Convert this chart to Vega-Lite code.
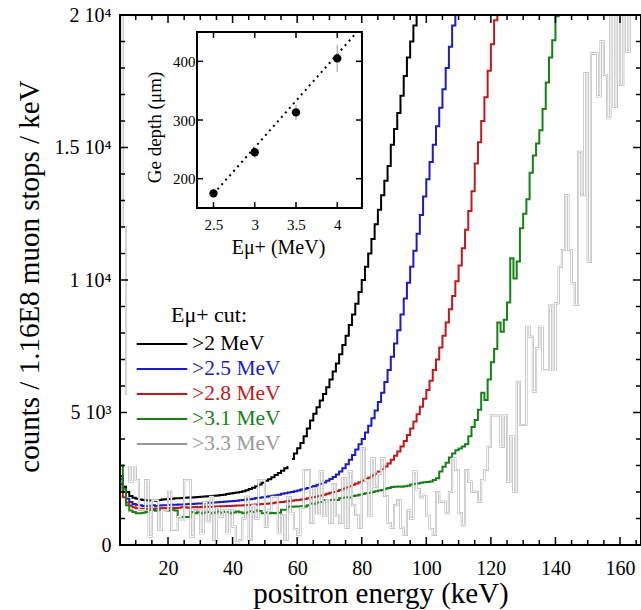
{
"$schema": "https://vega.github.io/schema/vega-lite/v6.json",
"width": 521, "height": 530,
"autosize": {"type": "none"},
"padding": {"left": 120, "top": 15, "right": 0, "bottom": 65},
"background": "white",
"config": {"font": "Liberation Serif", "view": {"stroke": null}, "axis": {"grid": false, "ticks": false, "domain": false, "labelColor": "black", "titleColor": "black", "titleFontWeight": "normal", "labelFont": "Liberation Serif", "titleFont": "Liberation Serif"}},
"datasets": {
"h": [
{"e":5,"a":2600,"b":2500,"r":2300,"g":3000,"y":25000},
{"e":6,"a":2200,"b":2000,"r":1800,"g":2100,"y":12000},
{"e":7,"a":2000,"b":1750,"r":1600,"g":1500,"y":5700},
{"e":8,"a":1850,"b":1620,"r":1480,"g":1300,"y":2400},
{"e":9,"a":1780,"b":1550,"r":1420,"g":1250,"y":3470},
{"e":10,"a":1750,"b":1520,"r":1390,"g":1200,"y":2450},
{"e":11,"a":1720,"b":1500,"r":1370,"g":1200,"y":1320},
{"e":12,"a":1700,"b":1470,"r":1360,"g":1220,"y":1320},
{"e":13,"a":1690,"b":1460,"r":1360,"g":1250,"y":2450},
{"e":14,"a":1680,"b":1480,"r":1380,"g":1320,"y":320},
{"e":15,"a":1700,"b":1500,"r":1370,"g":1320,"y":1700},
{"e":16,"a":1660,"b":1470,"r":1380,"g":1290,"y":1690},
{"e":17,"a":1700,"b":1490,"r":1390,"g":1330,"y":570},
{"e":18,"a":1720,"b":1500,"r":1400,"g":1320,"y":1320},
{"e":19,"a":1730,"b":1500,"r":1390,"g":1310,"y":1320},
{"e":20,"a":1740,"b":1510,"r":1400,"g":1300,"y":2010},
{"e":21,"a":1750,"b":1520,"r":1410,"g":1330,"y":570},
{"e":22,"a":1760,"b":1520,"r":1400,"g":1300,"y":570},
{"e":23,"a":1760,"b":1530,"r":1410,"g":1050,"y":1070},
{"e":24,"a":1770,"b":1530,"r":1420,"g":1060,"y":940},
{"e":25,"a":1780,"b":1540,"r":1420,"g":1060,"y":2450},
{"e":26,"a":1790,"b":1550,"r":1410,"g":1060,"y":2450},
{"e":27,"a":1790,"b":1550,"r":1420,"g":1250,"y":320},
{"e":28,"a":1800,"b":1560,"r":1430,"g":1200,"y":1320},
{"e":29,"a":1810,"b":1570,"r":1420,"g":1240,"y":1320},
{"e":30,"a":1820,"b":1570,"r":1430,"g":1200,"y":440},
{"e":31,"a":1830,"b":1580,"r":1440,"g":1230,"y":1600},
{"e":32,"a":1840,"b":1590,"r":1440,"g":1250,"y":900},
{"e":33,"a":1850,"b":1590,"r":1430,"g":1200,"y":1820},
{"e":34,"a":1860,"b":1600,"r":1450,"g":1220,"y":190},
{"e":35,"a":1870,"b":1610,"r":1450,"g":1260,"y":1400},
{"e":36,"a":1890,"b":1620,"r":1460,"g":1220,"y":1070},
{"e":37,"a":1900,"b":1630,"r":1460,"g":1250,"y":1320},
{"e":38,"a":1920,"b":1640,"r":1470,"g":1250,"y":440},
{"e":39,"a":1940,"b":1650,"r":1470,"g":1200,"y":1320},
{"e":40,"a":1960,"b":1660,"r":1480,"g":1230,"y":700},
{"e":41,"a":1980,"b":1670,"r":1490,"g":1260,"y":100},
{"e":42,"a":2000,"b":1690,"r":1490,"g":1240,"y":190},
{"e":43,"a":2030,"b":1700,"r":1500,"g":1200,"y":1000},
{"e":44,"a":2070,"b":1720,"r":1510,"g":1230,"y":1820},
{"e":45,"a":2110,"b":1730,"r":1510,"g":1270,"y":190},
{"e":46,"a":2160,"b":1750,"r":1520,"g":1250,"y":1500},
{"e":47,"a":2220,"b":1770,"r":1530,"g":1300,"y":1000},
{"e":48,"a":2280,"b":1780,"r":1540,"g":1280,"y":2450},
{"e":49,"a":2350,"b":1800,"r":1550,"g":1200,"y":2450},
{"e":50,"a":2420,"b":1820,"r":1560,"g":1230,"y":690},
{"e":51,"a":2480,"b":1840,"r":1570,"g":1200,"y":1300},
{"e":52,"a":2560,"b":1860,"r":1580,"g":1210,"y":1820},
{"e":53,"a":2640,"b":1880,"r":1600,"g":1200,"y":1820},
{"e":54,"a":2720,"b":1900,"r":1610,"g":1220,"y":440},
{"e":55,"a":2800,"b":1930,"r":1620,"g":1330,"y":1130},
{"e":56,"a":2900,"b":1950,"r":1640,"g":1330,"y":190},
{"e":57,"a":3050,"b":1980,"r":1650,"g":1450,"y":1800},
{"e":58,"a":3250,"b":2000,"r":1670,"g":1440,"y":1195},
{"e":59,"a":3450,"b":2030,"r":1690,"g":1450,"y":600},
{"e":60,"a":3650,"b":2060,"r":1700,"g":1450,"y":400},
{"e":61,"a":3850,"b":2090,"r":1720,"g":1460,"y":1400},
{"e":62,"a":4100,"b":2120,"r":1740,"g":1450,"y":2830},
{"e":63,"a":4400,"b":2150,"r":1760,"g":1500,"y":2830},
{"e":64,"a":4700,"b":2190,"r":1790,"g":1570,"y":830},
{"e":65,"a":4950,"b":2230,"r":1810,"g":1560,"y":2140},
{"e":66,"a":5200,"b":2270,"r":1840,"g":1600,"y":1200},
{"e":67,"a":5450,"b":2310,"r":1870,"g":1620,"y":2770},
{"e":68,"a":5700,"b":2360,"r":1900,"g":1700,"y":1100},
{"e":69,"a":5950,"b":2420,"r":1930,"g":1690,"y":1700},
{"e":70,"a":6250,"b":2490,"r":1970,"g":1700,"y":830},
{"e":71,"a":6550,"b":2570,"r":2000,"g":1710,"y":2300},
{"e":72,"a":6850,"b":2660,"r":2040,"g":1700,"y":1100},
{"e":73,"a":7200,"b":2770,"r":2080,"g":1760,"y":830},
{"e":74,"a":7550,"b":2900,"r":2120,"g":1780,"y":2520},
{"e":75,"a":7900,"b":3050,"r":2170,"g":1800,"y":650},
{"e":76,"a":8300,"b":3220,"r":2220,"g":1790,"y":2770},
{"e":77,"a":8700,"b":3400,"r":2270,"g":1850,"y":1500},
{"e":78,"a":9100,"b":3600,"r":2320,"g":1870,"y":1130},
{"e":79,"a":9550,"b":3800,"r":2370,"g":1900,"y":650},
{"e":80,"a":10000,"b":4000,"r":2430,"g":1920,"y":3650},
{"e":81,"a":10500,"b":4250,"r":2490,"g":1950,"y":2450},
{"e":82,"a":11000,"b":4500,"r":2550,"g":1960,"y":1100},
{"e":83,"a":11550,"b":4780,"r":2620,"g":2000,"y":3270},
{"e":84,"a":12100,"b":5080,"r":2690,"g":2030,"y":2200},
{"e":85,"a":12650,"b":5400,"r":2770,"g":2060,"y":2700},
{"e":86,"a":13200,"b":5750,"r":2860,"g":2080,"y":3270},
{"e":87,"a":13750,"b":6150,"r":2960,"g":2120,"y":1850},
{"e":88,"a":14300,"b":6600,"r":3080,"g":2150,"y":830},
{"e":89,"a":15100,"b":7100,"r":3220,"g":2190,"y":650},
{"e":90,"a":15700,"b":7600,"r":3370,"g":2200,"y":1500},
{"e":91,"a":16300,"b":8100,"r":3530,"g":2210,"y":1700},
{"e":92,"a":16950,"b":8700,"r":3720,"g":2200,"y":650},
{"e":93,"a":17700,"b":9300,"r":3920,"g":2220,"y":380},
{"e":94,"a":18400,"b":9900,"r":4150,"g":2240,"y":1300},
{"e":95,"a":19000,"b":10500,"r":4400,"g":2280,"y":1000},
{"e":96,"a":19600,"b":11100,"r":4660,"g":2300,"y":2770},
{"e":97,"a":20300,"b":11750,"r":4930,"g":2320,"y":2100},
{"e":98,"a":21000,"b":12450,"r":5220,"g":2350,"y":1800},
{"e":99,"b":13150,"r":5520,"g":2370,"y":1900},
{"e":100,"b":13800,"r":5850,"g":2380,"y":1100},
{"e":101,"b":14450,"r":6200,"g":2400,"y":600},
{"e":102,"b":15100,"r":6600,"g":2450,"y":380},
{"e":103,"b":15800,"r":7000,"g":2520,"y":2000},
{"e":104,"b":16500,"r":7450,"g":2770,"y":1630},
{"e":105,"b":17200,"r":7900,"g":2950,"y":1630},
{"e":106,"b":18000,"r":8400,"g":3100,"y":1200},
{"e":107,"b":18800,"r":8900,"g":3300,"y":2000},
{"e":108,"b":19600,"r":9400,"g":3450,"y":3270},
{"e":109,"b":20400,"r":9950,"g":3580,"y":2830},
{"e":110,"r":10550,"g":3640,"y":1200},
{"e":111,"r":11200,"g":3720,"y":750},
{"e":112,"r":11900,"g":3800,"y":2830},
{"e":113,"r":12600,"g":4100,"y":2390},
{"e":114,"r":13350,"g":4450,"y":2010},
{"e":115,"r":14400,"g":4720,"y":2010},
{"e":116,"r":15200,"g":5100,"y":1630},
{"e":117,"r":16000,"g":5750,"y":2450},
{"e":118,"r":16900,"g":5470,"y":2830},
{"e":119,"r":17900,"g":6250,"y":3710},
{"e":120,"r":18900,"g":6900,"y":4900},
{"e":121,"r":19800,"g":7400,"y":4900},
{"e":122,"r":20700,"g":8400,"y":4900},
{"e":123,"g":8050,"y":3710},
{"e":124,"g":8500,"y":4900},
{"e":125,"g":9150,"y":2390},
{"e":126,"g":10820,"y":4090},
{"e":127,"g":10060,"y":2010},
{"e":128,"g":10700,"y":6160},
{"e":129,"g":11950,"y":4530},
{"e":130,"g":12500,"y":4530},
{"e":131,"g":13050,"y":8240},
{"e":132,"g":14050,"y":7860},
{"e":133,"g":14700,"y":5790},
{"e":134,"g":15150,"y":7420},
{"e":135,"g":15650,"y":8240},
{"e":136,"g":16450,"y":6600},
{"e":137,"g":17450,"y":6600},
{"e":138,"g":18400,"y":9060},
{"e":139,"g":19050,"y":6600},
{"e":140,"g":19950,"y":9120},
{"e":141,"g":20600,"y":10500},
{"e":142,"y":11130},
{"e":143,"y":13200},
{"e":144,"y":11130},
{"e":145,"y":9875},
{"e":146,"y":9060},
{"e":147,"y":14840},
{"e":148,"y":13200},
{"e":149,"y":17800},
{"e":150,"y":10690},
{"e":151,"y":18550},
{"e":152,"y":18550},
{"e":153,"y":16920},
{"e":154,"y":19000},
{"e":155,"y":17740},
{"e":156,"y":16100},
{"e":157,"y":21500},
{"e":158,"y":16540},
{"e":159,"y":21500},
{"e":160,"y":17360},
{"e":161,"y":21500},
{"e":162,"y":18620},
{"e":163,"y":21500},
{"e":164,"y":20500},
{"e":165,"y":21000},
{"e":166,"y":21000},
{"e":167,"y":21000}
],
"xt": [
{"v":10,"k":"m"},{"v":15,"k":"m"},{"v":20,"k":"M"},{"v":25,"k":"m"},{"v":30,"k":"m"},{"v":35,"k":"m"},{"v":40,"k":"M"},{"v":45,"k":"m"},{"v":50,"k":"m"},{"v":55,"k":"m"},{"v":60,"k":"M"},{"v":65,"k":"m"},{"v":70,"k":"m"},{"v":75,"k":"m"},{"v":80,"k":"M"},{"v":85,"k":"m"},{"v":90,"k":"m"},{"v":95,"k":"m"},{"v":100,"k":"M"},{"v":105,"k":"m"},{"v":110,"k":"m"},{"v":115,"k":"m"},{"v":120,"k":"M"},{"v":125,"k":"m"},{"v":130,"k":"m"},{"v":135,"k":"m"},{"v":140,"k":"M"},{"v":145,"k":"m"},{"v":150,"k":"m"},{"v":155,"k":"m"},{"v":160,"k":"M"},{"v":165,"k":"m"}
],
"yt": [
{"v":1000,"k":"m"},{"v":2000,"k":"m"},{"v":3000,"k":"m"},{"v":4000,"k":"m"},{"v":5000,"k":"M"},{"v":6000,"k":"m"},{"v":7000,"k":"m"},{"v":8000,"k":"m"},{"v":9000,"k":"m"},{"v":10000,"k":"M"},{"v":11000,"k":"m"},{"v":12000,"k":"m"},{"v":13000,"k":"m"},{"v":14000,"k":"m"},{"v":15000,"k":"M"},{"v":16000,"k":"m"},{"v":17000,"k":"m"},{"v":18000,"k":"m"},{"v":19000,"k":"m"}
],
"ixt": [{"v":2.5},{"v":3},{"v":3.5},{"v":4}],
"iyt": [{"v":200},{"v":300},{"v":400}],
"pts": [
{"E":2.5,"d":175,"lo":168,"hi":183},
{"E":3,"d":245,"lo":235,"hi":255},
{"E":3.5,"d":313,"lo":300,"hi":326},
{"E":4,"d":405,"lo":382,"hi":428}
],
"fit": [{"E":2.5,"d":174},{"E":4.24,"d":450}],
"frame": [{"x1":2.3,"x2":4.3,"y1":150,"y2":450}],
"one": [{"n":1}]
},
"layer": [
{
"layer": [
{
"data": {"name": "h"},
"transform": [{"fold": ["a","b","r","g","y"], "as": ["s","c"]}, {"filter": "isValid(datum.c)"}],
"mark": {"type": "line", "interpolate": "step-after", "strokeWidth": 2, "clip": true},
"encoding": {
"x": {"field": "e", "type": "quantitative", "scale": {"domain": [5.13, 166.5], "nice": false, "zero": false},
 "axis": {"orient": "bottom", "values": [20,40,60,80,100,120,140,160], "labelFontSize": 20, "labelPadding": 13, "labelFlush": false, "title": "positron energy (keV)", "titleFontSize": 29, "titleY": 57, "titleBaseline": "alphabetic"}},
"y": {"field": "c", "type": "quantitative", "scale": {"domain": [0, 20000], "nice": false},
 "axis": {"orient": "left", "values": [0,5000,10000,15000,20000], "labelFontSize": 20, "labelPadding": 9, "labelExpr": "datum.value == 0 ? '0' : datum.value == 5000 ? '5 10³' : datum.value == 10000 ? '1 10⁴' : datum.value == 15000 ? '1.5 10⁴' : '2 10⁴'", "title": "counts / 1.16E8 muon stops / keV", "titleFontSize": 29, "titleX": -82, "titleY": 261, "titleBaseline": "alphabetic"}},
"color": {"field": "s", "type": "nominal", "scale": {"domain": ["a","b","r","g","y"], "range": ["#000000","#1c1cc4","#c21a1a","#168216","#9a9a9a"]},
 "legend": {"orient": "none", "legendX": 7, "legendY": 279, "title": "Eμ+ cut:", "titleFontSize": 22, "titleFont": "Liberation Serif", "titleFontWeight": "normal", "titleColor": "black", "titleAnchor": "middle", "labelFontSize": 21.5, "labelFont": "Liberation Serif", "symbolType": "M-2.3,0H2.3", "symbolStrokeWidth": 2, "symbolSize": 484, "symbolOffset": 12, "labelOffset": 18, "rowPadding": 2, "fillColor": "white", "padding": 11,
  "labelExpr": "datum.value == 'a' ? '>2 MeV' : datum.value == 'b' ? '>2.5 MeV' : datum.value == 'r' ? '>2.8 MeV' : datum.value == 'g' ? '>3.1 MeV' : '>3.3 MeV'",
  "encode": {"labels": {"update": {"fill": {"signal": "scale('color', datum.value)"}}}}}},
"strokeWidth": {"condition": {"test": "datum.s == 'y'", "value": 3.6}, "value": 2}
}
},
{
"data": {"name": "h"},
"transform": [{"fold": ["y"], "as": ["s","c"]}, {"filter": "isValid(datum.c)"}],
"mark": {"type": "line", "interpolate": "step-after", "strokeWidth": 1.1, "color": "white", "clip": true},
"encoding": {
"x": {"field": "e", "type": "quantitative", "scale": {"domain": [5.13, 166.5], "nice": false, "zero": false}, "axis": null},
"y": {"field": "c", "type": "quantitative", "scale": {"domain": [0, 20000], "nice": false}, "axis": null}
}
},
{
"data": {"name": "xt"},
"mark": {"type": "tick", "orient": "vertical", "color": "black", "thickness": 1.5, "clip": true, "opacity": 1},
"encoding": {
"x": {"field": "v", "type": "quantitative", "scale": {"domain": [5.13, 166.5], "nice": false, "zero": false}, "axis": null},
"y": {"value": "height"},
"size": {"condition": {"test": "datum.k == 'M'", "value": 16}, "value": 10}
}
},
{
"data": {"name": "xt"},
"mark": {"type": "tick", "orient": "vertical", "color": "black", "thickness": 1.5, "clip": true, "opacity": 1},
"encoding": {
"x": {"field": "v", "type": "quantitative", "scale": {"domain": [5.13, 166.5], "nice": false, "zero": false}, "axis": null},
"y": {"value": 0},
"size": {"condition": {"test": "datum.k == 'M'", "value": 16}, "value": 10}
}
},
{
"data": {"name": "yt"},
"mark": {"type": "tick", "orient": "horizontal", "color": "black", "thickness": 1.5, "clip": true, "opacity": 1},
"encoding": {
"y": {"field": "v", "type": "quantitative", "scale": {"domain": [0, 20000], "nice": false}, "axis": null},
"x": {"value": 0},
"size": {"condition": {"test": "datum.k == 'M'", "value": 16}, "value": 10}
}
},
{
"data": {"name": "yt"},
"mark": {"type": "tick", "orient": "horizontal", "color": "black", "thickness": 1.5, "clip": true, "opacity": 1},
"encoding": {
"y": {"field": "v", "type": "quantitative", "scale": {"domain": [0, 20000], "nice": false}, "axis": null},
"x": {"value": "width"},
"size": {"condition": {"test": "datum.k == 'M'", "value": 16}, "value": 10}
}
},
{
"data": {"name": "one"},
"mark": {"type": "rect", "filled": false, "stroke": "black", "strokeWidth": 2, "opacity": 1},
"encoding": {
"x": {"value": 0}, "x2": {"value": "width"},
"y": {"value": 0}, "y2": {"value": "height"}
}
}
],
"resolve": {"axis": {"x": "independent", "y": "independent"}}
},
{
"layer": [
{
"data": {"name": "frame"},
"mark": {"type": "rect", "fill": "white", "stroke": "black", "strokeWidth": 2},
"encoding": {
"x": {"field": "x1", "type": "quantitative", "scale": {"domain": [1.3667, 7.6818], "nice": false, "zero": false}, "axis": null},
"x2": {"field": "x2"},
"y": {"field": "y1", "type": "quantitative", "scale": {"domain": [-424.4, 478.98], "nice": false, "zero": false}, "axis": null},
"y2": {"field": "y2"}
}
},
{
"data": {"name": "fit"},
"mark": {"type": "line", "color": "black", "strokeWidth": 2, "strokeDash": [2, 4]},
"encoding": {
"x": {"field": "E", "type": "quantitative", "scale": {"domain": [1.3667, 7.6818], "nice": false, "zero": false},
 "axis": {"orient": "bottom", "offset": -337, "values": [2.5,3,3.5,4], "format": ".1~f", "labelFontSize": 15, "labelPadding": 9, "labelFlush": false, "title": "Eμ+ (MeV)", "titleFontSize": 20, "titleX": 158, "titleY": 45, "titleBaseline": "alphabetic"}},
"y": {"field": "d", "type": "quantitative", "scale": {"domain": [-424.4, 478.98], "nice": false, "zero": false},
 "axis": {"orient": "left", "offset": -77, "values": [200,300,400], "labelFontSize": 15, "labelPadding": 2, "title": "Ge depth (μm)", "titleFontSize": 19, "titleX": -37, "titleY": 112, "titleBaseline": "alphabetic"}}
}
},
{
"data": {"name": "pts"},
"mark": {"type": "rule", "color": "#bbbbbb", "strokeWidth": 1.5},
"encoding": {
"x": {"field": "E", "type": "quantitative", "scale": {"domain": [1.3667, 7.6818], "nice": false, "zero": false}, "axis": null},
"y": {"field": "lo", "type": "quantitative", "scale": {"domain": [-424.4, 478.98], "nice": false, "zero": false}, "axis": null},
"y2": {"field": "hi"}
}
},
{
"data": {"name": "pts"},
"mark": {"type": "circle", "size": 70, "color": "black", "opacity": 1},
"encoding": {
"x": {"field": "E", "type": "quantitative", "scale": {"domain": [1.3667, 7.6818], "nice": false, "zero": false}, "axis": null},
"y": {"field": "d", "type": "quantitative", "scale": {"domain": [-424.4, 478.98], "nice": false, "zero": false}, "axis": null}
}
},
{
"data": {"name": "ixt"},
"mark": {"type": "tick", "orient": "vertical", "color": "black", "thickness": 1.5, "size": 6, "opacity": 1},
"encoding": {
"x": {"field": "v", "type": "quantitative", "scale": {"domain": [1.3667, 7.6818], "nice": false, "zero": false}, "axis": null},
"y": {"datum": 150, "type": "quantitative", "scale": {"domain": [-424.4, 478.98], "nice": false, "zero": false}, "axis": null},
"yOffset": {"value": -3}
}
},
{
"data": {"name": "ixt"},
"mark": {"type": "tick", "orient": "vertical", "color": "black", "thickness": 1.5, "size": 6, "opacity": 1},
"encoding": {
"x": {"field": "v", "type": "quantitative", "scale": {"domain": [1.3667, 7.6818], "nice": false, "zero": false}, "axis": null},
"y": {"datum": 450, "type": "quantitative", "scale": {"domain": [-424.4, 478.98], "nice": false, "zero": false}, "axis": null},
"yOffset": {"value": 3}
}
},
{
"data": {"name": "iyt"},
"mark": {"type": "tick", "orient": "horizontal", "color": "black", "thickness": 1.5, "size": 6, "opacity": 1},
"encoding": {
"y": {"field": "v", "type": "quantitative", "scale": {"domain": [-424.4, 478.98], "nice": false, "zero": false}, "axis": null},
"x": {"datum": 2.3, "type": "quantitative", "scale": {"domain": [1.3667, 7.6818], "nice": false, "zero": false}, "axis": null},
"xOffset": {"value": 3}
}
},
{
"data": {"name": "iyt"},
"mark": {"type": "tick", "orient": "horizontal", "color": "black", "thickness": 1.5, "size": 6, "opacity": 1},
"encoding": {
"y": {"field": "v", "type": "quantitative", "scale": {"domain": [-424.4, 478.98], "nice": false, "zero": false}, "axis": null},
"x": {"datum": 4.3, "type": "quantitative", "scale": {"domain": [1.3667, 7.6818], "nice": false, "zero": false}, "axis": null},
"xOffset": {"value": -3}
}
}
],
"resolve": {"axis": {"x": "independent", "y": "independent"}}
}
],
"resolve": {"scale": {"x": "independent", "y": "independent"}, "axis": {"x": "independent", "y": "independent"}}
}
